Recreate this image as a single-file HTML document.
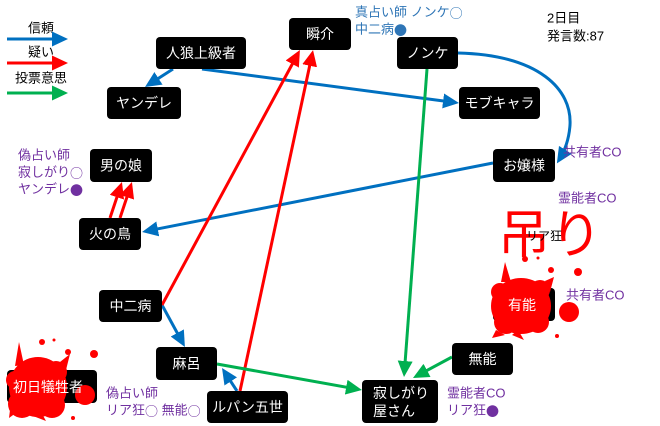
<!DOCTYPE html>
<html><head><meta charset="utf-8">
<style>
html,body{margin:0;padding:0;background:#fff;}
svg{display:block;font-family:"Liberation Sans","Noto Sans CJK JP",sans-serif;}
.bx{fill:#000;}
.bt{fill:#fff;font-size:14px;text-anchor:middle;dominant-baseline:central;}
.pt{fill:#7030A0;font-size:13px;dominant-baseline:central;}
.bl{fill:#2E75B6;font-size:13px;dominant-baseline:central;}
.kt{fill:#000;font-size:13px;dominant-baseline:central;}
.cj{font-family:"Noto Sans CJK JP",sans-serif;}
.b{stroke:#0070C0;stroke-width:3;fill:none;}
.r{stroke:#FF0000;stroke-width:3;fill:none;}
.g{stroke:#00B050;stroke-width:3;fill:none;}
</style></head>
<body>
<svg width="660" height="426" viewBox="0 0 660 426" xmlns="http://www.w3.org/2000/svg">
<defs>
<marker id="mb" markerUnits="userSpaceOnUse" markerWidth="17" markerHeight="15" refX="12" refY="7.5" orient="auto"><path d="M0,0 L16,7.5 L0,15 z" fill="#0070C0"/></marker>
<marker id="mr" markerUnits="userSpaceOnUse" markerWidth="17" markerHeight="15" refX="12" refY="7.5" orient="auto"><path d="M0,0 L16,7.5 L0,15 z" fill="#FF0000"/></marker>
<marker id="mg" markerUnits="userSpaceOnUse" markerWidth="17" markerHeight="15" refX="12" refY="7.5" orient="auto"><path d="M0,0 L16,7.5 L0,15 z" fill="#00B050"/></marker>
</defs>

<!-- legend -->
<text class="kt" x="41" y="28" text-anchor="middle">信頼</text>
<line class="b" x1="7" y1="39" x2="64" y2="39" marker-end="url(#mb)"/>
<text class="kt" x="41" y="52" text-anchor="middle">疑い</text>
<line class="r" x1="7" y1="63" x2="64" y2="63" marker-end="url(#mr)"/>
<text class="kt" x="41" y="78" text-anchor="middle">投票意思</text>
<line class="g" x1="7" y1="93" x2="64" y2="93" marker-end="url(#mg)"/>

<!-- connectors -->
<line class="b" x1="173" y1="69" x2="148.4" y2="84.8" marker-end="url(#mb)"/>
<line class="b" x1="202" y1="69" x2="455" y2="102.5" marker-end="url(#mb)"/>
<line class="b" x1="493" y1="163" x2="146" y2="231.2" marker-end="url(#mb)"/>
<line class="b" x1="162" y1="305" x2="183" y2="343.5" marker-end="url(#mb)"/>
<line class="b" x1="237" y1="391" x2="224.2" y2="371.4" marker-end="url(#mb)"/>
<path class="b" d="M458,53 C540,55 572,90 570,125 C569,140 564,152 559,160" marker-end="url(#mb)"/>

<line class="r" x1="162" y1="305" x2="298" y2="53.5" marker-end="url(#mr)"/>
<line class="r" x1="240" y1="391" x2="312.2" y2="54" marker-end="url(#mr)"/>
<line class="r" x1="110" y1="218" x2="120.7" y2="185.8" marker-end="url(#mr)"/>
<line class="r" x1="120" y1="218" x2="130.7" y2="185.8" marker-end="url(#mr)"/>

<line class="g" x1="427" y1="69" x2="404.3" y2="373" marker-end="url(#mg)"/>
<line class="g" x1="452" y1="357" x2="416.5" y2="376.1" marker-end="url(#mg)"/>
<line class="g" x1="217" y1="364" x2="358" y2="389.3" marker-end="url(#mg)"/>

<!-- boxes -->
<rect class="bx" x="289" y="18" width="62" height="32" rx="4"/>
<text class="bt" x="320" y="34">瞬介</text>
<rect class="bx" x="156" y="37" width="90" height="32" rx="4"/>
<text class="bt" x="201" y="53">人狼上級者</text>
<rect class="bx" x="107" y="87" width="74" height="32" rx="4"/>
<text class="bt" x="144" y="103">ヤンデレ</text>
<rect class="bx" x="397" y="37" width="61" height="32" rx="4"/>
<text class="bt" x="427.5" y="53">ノンケ</text>
<rect class="bx" x="459" y="87" width="81" height="32" rx="4"/>
<text class="bt" x="499.5" y="103">モブキャラ</text>
<rect class="bx" x="90" y="149" width="62" height="33" rx="4"/>
<text class="bt" x="121" y="165.5">男の娘</text>
<rect class="bx" x="493" y="149" width="62" height="33" rx="4"/>
<text class="bt" x="524" y="165.5">お嬢様</text>
<rect class="bx" x="79" y="218" width="62" height="32" rx="4"/>
<text class="bt" x="110" y="234">火の鳥</text>
<rect class="bx" x="99" y="290" width="63" height="32" rx="4"/>
<text class="bt" x="130.5" y="306">中二病</text>
<rect class="bx" x="493" y="288" width="62" height="33" rx="4"/>
<rect class="bx" x="156" y="347" width="61" height="33" rx="4"/>
<text class="bt" x="186.5" y="363.5">麻呂</text>
<rect class="bx" x="452" y="343" width="61" height="32" rx="4"/>
<text class="bt" x="482.5" y="359">無能</text>
<rect class="bx" x="7" y="370" width="90" height="33" rx="4"/>
<rect class="bx" x="362" y="380" width="76" height="43" rx="4"/>
<text class="bt" x="373" y="393" style="text-anchor:start">寂しがり</text>
<text class="bt" x="373" y="411" style="text-anchor:start">屋さん</text>
<rect class="bx" x="207" y="391" width="81" height="32" rx="4"/>
<text class="bt" x="247.5" y="407">ルパン五世</text>

<!-- blood splat 初日犠牲者 -->
<g fill="#FF0000">
<ellipse cx="38" cy="387" rx="29" ry="30"/>
<circle cx="22" cy="404" r="14"/>
<circle cx="52" cy="405" r="13"/>
<circle cx="56" cy="372" r="11"/>
<circle cx="15" cy="380" r="9"/>
<polygon points="19,342 24,365 15,366"/>
<polygon points="60,362 70,354 66,370"/>
<polygon points="10,410 20,410 9,418"/>
<polygon points="40,410 46,421 33,416"/>
<circle cx="85" cy="395" r="10"/>
<circle cx="42" cy="342" r="3"/>
<circle cx="54" cy="340" r="1.5"/>
<circle cx="68" cy="352" r="3"/>
<circle cx="94" cy="354" r="4"/>
<circle cx="73" cy="418" r="2"/>
</g>
<text class="bt" x="48" y="387">初日犠牲者</text>

<!-- blood splat 有能 -->
<g fill="#FF0000">
<ellipse cx="521" cy="306" rx="30" ry="28"/>
<circle cx="506" cy="322" r="12"/>
<circle cx="538" cy="322" r="11"/>
<circle cx="500" cy="292" r="9"/>
<circle cx="540" cy="290" r="10"/>
<polygon points="505,262 511,282 501,282"/>
<polygon points="545,281 554,277 550,292"/>
<polygon points="496,330 505,335 492,338"/>
<polygon points="518,330 524,340 512,335"/>
<circle cx="569" cy="312" r="10"/>
<circle cx="525" cy="259" r="3"/>
<circle cx="538" cy="258" r="1.5"/>
<circle cx="551" cy="270" r="3"/>
<circle cx="578" cy="272" r="4"/>
<circle cx="557" cy="336" r="2"/>
</g>
<text class="bt" x="522" y="305">有能</text>

<!-- 吊り -->
<text x="498" y="253" fill="#FF0000" style="font-size:52px;">吊り</text>
<text class="kt" x="526" y="236" style="font-size:12px;">リア狂</text>

<!-- annotations -->
<text class="bl" x="355" y="12">真占い師 ノンケ<tspan class="cj">○</tspan></text>
<text class="bl" x="355" y="29">中二病<tspan class="cj">●</tspan></text>
<text class="kt" x="547" y="18">2日目</text>
<text class="kt" x="547" y="36">発言数:87</text>

<text class="pt" x="18" y="155">偽占い師</text>
<text class="pt" x="18" y="172">寂しがり<tspan class="cj">○</tspan></text>
<text class="pt" x="18" y="189">ヤンデレ<tspan class="cj">●</tspan></text>

<text class="pt" x="563" y="152">共有者CO</text>
<text class="pt" x="558" y="198">霊能者CO</text>
<text class="pt" x="566" y="295">共有者CO</text>

<text class="pt" x="106" y="393">偽占い師</text>
<text class="pt" x="106" y="410">リア狂<tspan class="cj">○</tspan> 無能<tspan class="cj">○</tspan></text>

<text class="pt" x="447" y="393">霊能者CO</text>
<text class="pt" x="447" y="410">リア狂<tspan class="cj">●</tspan></text>
</svg>
</body></html>
